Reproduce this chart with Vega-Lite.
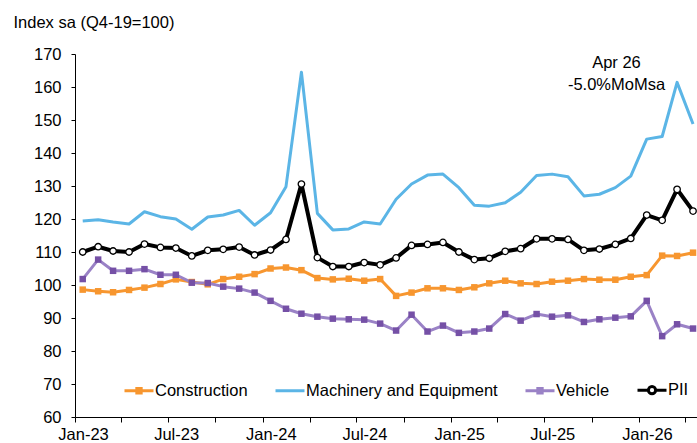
{
  "$schema": "https://vega.github.io/schema/vega-lite/v6.json",
  "width": 622,
  "height": 363,
  "autosize": {"type": "none"},
  "padding": {"left": 75, "top": 54, "right": 0, "bottom": 26},
  "background": "white",
  "config": {
    "font": "Liberation Sans",
    "view": {"stroke": null},
    "axis": {"domainColor": "black", "tickColor": "black", "labelColor": "black", "labelFontSize": 16.5, "labelFont": "Liberation Sans", "grid": false, "domainWidth": 1, "tickWidth": 1},
    "legend": {
      "orient": "none", "legendX": 48, "legendY": 320, "direction": "horizontal",
      "columnPadding": 21, "labelOffset": 0, "symbolSize": 841, "symbolStrokeWidth": 3,
      "labelFontSize": 16.5, "labelFont": "Liberation Sans", "labelColor": "black", "labelLimit": 400,
      "padding": 0, "rowPadding": 0, "symbolFillColor": "transparent", "symbolStrokeColor": "transparent", "symbolOpacity": 1
    }
  },
  "data": {"values": [
    {"date": "2023-01-16", "Construction": 98.6, "Machinery and Equipment": 119.4, "Vehicle": 101.8, "PII": 110.0},
    {"date": "2023-02-15", "Construction": 98.1, "Machinery and Equipment": 119.8, "Vehicle": 107.7, "PII": 111.6},
    {"date": "2023-03-16", "Construction": 97.8, "Machinery and Equipment": 119.1, "Vehicle": 104.3, "PII": 110.3},
    {"date": "2023-04-16", "Construction": 98.5, "Machinery and Equipment": 118.5, "Vehicle": 104.3, "PII": 110.0},
    {"date": "2023-05-16", "Construction": 99.2, "Machinery and Equipment": 122.2, "Vehicle": 104.8, "PII": 112.4},
    {"date": "2023-06-16", "Construction": 100.3, "Machinery and Equipment": 120.7, "Vehicle": 103.1, "PII": 111.4},
    {"date": "2023-07-16", "Construction": 101.7, "Machinery and Equipment": 120.0, "Vehicle": 103.1, "PII": 111.2},
    {"date": "2023-08-16", "Construction": 100.9, "Machinery and Equipment": 116.9, "Vehicle": 100.7, "PII": 108.8},
    {"date": "2023-09-16", "Construction": 100.2, "Machinery and Equipment": 120.6, "Vehicle": 100.6, "PII": 110.5},
    {"date": "2023-10-16", "Construction": 101.8, "Machinery and Equipment": 121.2, "Vehicle": 99.5, "PII": 110.8},
    {"date": "2023-11-16", "Construction": 102.5, "Machinery and Equipment": 122.6, "Vehicle": 98.9, "PII": 111.5},
    {"date": "2023-12-16", "Construction": 103.3, "Machinery and Equipment": 118.1, "Vehicle": 97.7, "PII": 109.1},
    {"date": "2024-01-16", "Construction": 105.0, "Machinery and Equipment": 121.9, "Vehicle": 95.2, "PII": 110.6},
    {"date": "2024-02-15", "Construction": 105.3, "Machinery and Equipment": 129.8, "Vehicle": 92.8, "PII": 113.8},
    {"date": "2024-03-16", "Construction": 104.5, "Machinery and Equipment": 164.5, "Vehicle": 91.3, "PII": 130.6},
    {"date": "2024-04-16", "Construction": 102.1, "Machinery and Equipment": 121.7, "Vehicle": 90.4, "PII": 108.3},
    {"date": "2024-05-16", "Construction": 101.7, "Machinery and Equipment": 116.7, "Vehicle": 89.8, "PII": 105.6},
    {"date": "2024-06-16", "Construction": 101.9, "Machinery and Equipment": 117.0, "Vehicle": 89.6, "PII": 105.6},
    {"date": "2024-07-16", "Construction": 101.3, "Machinery and Equipment": 119.1, "Vehicle": 89.5, "PII": 106.8},
    {"date": "2024-08-16", "Construction": 101.8, "Machinery and Equipment": 118.5, "Vehicle": 88.3, "PII": 106.1},
    {"date": "2024-09-16", "Construction": 96.7, "Machinery and Equipment": 126.0, "Vehicle": 86.2, "PII": 108.2},
    {"date": "2024-10-16", "Construction": 97.7, "Machinery and Equipment": 130.6, "Vehicle": 91.0, "PII": 112.0},
    {"date": "2024-11-16", "Construction": 99.0, "Machinery and Equipment": 133.3, "Vehicle": 85.9, "PII": 112.3},
    {"date": "2024-12-16", "Construction": 99.0, "Machinery and Equipment": 133.6, "Vehicle": 87.7, "PII": 112.9},
    {"date": "2025-01-16", "Construction": 98.5, "Machinery and Equipment": 129.5, "Vehicle": 85.5, "PII": 110.0},
    {"date": "2025-02-15", "Construction": 99.3, "Machinery and Equipment": 124.2, "Vehicle": 85.9, "PII": 107.7},
    {"date": "2025-03-16", "Construction": 100.5, "Machinery and Equipment": 123.9, "Vehicle": 86.8, "PII": 108.1},
    {"date": "2025-04-16", "Construction": 101.3, "Machinery and Equipment": 124.9, "Vehicle": 91.2, "PII": 110.2},
    {"date": "2025-05-16", "Construction": 100.5, "Machinery and Equipment": 128.1, "Vehicle": 89.2, "PII": 111.0},
    {"date": "2025-06-16", "Construction": 100.3, "Machinery and Equipment": 133.2, "Vehicle": 91.2, "PII": 114.0},
    {"date": "2025-07-16", "Construction": 101.0, "Machinery and Equipment": 133.6, "Vehicle": 90.4, "PII": 114.0},
    {"date": "2025-08-16", "Construction": 101.3, "Machinery and Equipment": 132.8, "Vehicle": 90.8, "PII": 113.8},
    {"date": "2025-09-16", "Construction": 101.8, "Machinery and Equipment": 127.0, "Vehicle": 88.8, "PII": 110.5},
    {"date": "2025-10-16", "Construction": 101.6, "Machinery and Equipment": 127.5, "Vehicle": 89.6, "PII": 110.9},
    {"date": "2025-11-16", "Construction": 101.6, "Machinery and Equipment": 129.5, "Vehicle": 90.1, "PII": 112.3},
    {"date": "2025-12-16", "Construction": 102.5, "Machinery and Equipment": 133.0, "Vehicle": 90.5, "PII": 114.1},
    {"date": "2026-01-16", "Construction": 103.0, "Machinery and Equipment": 144.2, "Vehicle": 95.2, "PII": 121.2},
    {"date": "2026-02-15", "Construction": 108.9, "Machinery and Equipment": 145.0, "Vehicle": 84.5, "PII": 119.6},
    {"date": "2026-03-16", "Construction": 108.8, "Machinery and Equipment": 161.4, "Vehicle": 88.1, "PII": 129.0},
    {"date": "2026-04-16", "Construction": 109.8, "Machinery and Equipment": 148.8, "Vehicle": 86.8, "PII": 122.4}
  ]},
  "transform": [{"fold": ["Construction", "Machinery and Equipment", "Vehicle", "PII"], "as": ["series", "value"]}],
  "encoding": {
    "x": {
      "field": "date", "type": "temporal",
      "scale": {"type": "utc", "domain": [{"year": 2023, "month": 1, "date": 1, "utc": true}, {"year": 2026, "month": 4, "date": 23, "hours": 17, "utc": true}]},
      "axis": {
        "title": ["Apr 26", "-5.0%MoMsa"],
        "titleX": 541, "titleY": -350, "titleAlign": "center", "titleBaseline": "alphabetic", "titleAngle": 0,
        "titleLineHeight": 22, "titleFontSize": 16.5, "titleFontWeight": "normal", "titleColor": "black", "titleFont": "Liberation Sans",
        "values": [
          {"year": 2023, "month": 1, "date": 1, "utc": true}, {"year": 2023, "month": 4, "date": 1, "utc": true},
          {"year": 2023, "month": 7, "date": 1, "utc": true}, {"year": 2023, "month": 10, "date": 1, "utc": true},
          {"year": 2024, "month": 1, "date": 1, "utc": true}, {"year": 2024, "month": 4, "date": 1, "utc": true},
          {"year": 2024, "month": 7, "date": 1, "utc": true}, {"year": 2024, "month": 10, "date": 1, "utc": true},
          {"year": 2025, "month": 1, "date": 1, "utc": true}, {"year": 2025, "month": 4, "date": 1, "utc": true},
          {"year": 2025, "month": 7, "date": 1, "utc": true}, {"year": 2025, "month": 10, "date": 1, "utc": true},
          {"year": 2026, "month": 1, "date": 1, "utc": true}, {"year": 2026, "month": 4, "date": 1, "utc": true}
        ],
        "labelExpr": "utcmonth(datum.value) % 6 === 0 ? utcFormat(datum.value, '%b-%y') : ''",
        "labelOffset": 8, "tickSize": 5, "labelPadding": 4, "labelFlush": false, "labelOverlap": false
      }
    },
    "y": {
      "field": "value", "type": "quantitative",
      "scale": {"domain": [60, 170], "nice": false, "zero": false},
      "axis": {
        "values": [60, 70, 80, 90, 100, 110, 120, 130, 140, 150, 160, 170],
        "title": "Index sa (Q4-19=100)", "titleAngle": 0, "titleAlign": "left", "titleBaseline": "alphabetic",
        "titleX": -62, "titleY": -27, "titleFontSize": 16.5, "titleFontWeight": "normal", "titleColor": "black", "titleFont": "Liberation Sans",
        "tickSize": 4, "labelPadding": 10
      }
    }
  },
  "layer": [
    {
      "transform": [{"filter": "datum.series !== 'PII'"}],
      "mark": {"type": "line", "strokeWidth": 3, "strokeJoin": "round"},
      "encoding": {
        "color": {"field": "series", "type": "nominal", "scale": {"domain": ["Construction", "Machinery and Equipment", "Vehicle"], "range": ["#F7962F", "#5BB5E6", "#9A82C6"]}, "legend": null}
      }
    },
    {
      "transform": [{"filter": "datum.series === 'Construction'"}],
      "mark": {"type": "square", "size": 42, "opacity": 1, "strokeWidth": 0, "fill": "#F7962F"}
    },
    {
      "transform": [{"filter": "datum.series === 'Vehicle'"}],
      "mark": {"type": "square", "size": 42, "opacity": 1, "strokeWidth": 0, "fill": "#7550A6"}
    },
    {
      "transform": [{"filter": "datum.series === 'PII'"}],
      "mark": {"type": "line", "strokeWidth": 4, "strokeJoin": "round", "stroke": "#000000"}
    },
    {
      "transform": [{"filter": "datum.series === 'PII'"}],
      "mark": {"type": "circle", "size": 42, "opacity": 1, "fill": "white", "stroke": "black", "strokeWidth": 1.3}
    },
    {
      "mark": {"type": "point", "size": 30, "opacity": 0},
      "encoding": {
        "fill": {"field": "series", "type": "nominal", "scale": {"domain": ["Construction", "Machinery and Equipment", "Vehicle", "PII"], "range": ["#F7962F", "transparent", "#7550A6", "#ffffff"]}, "legend": {"title": null}},
        "stroke": {"field": "series", "type": "nominal", "scale": {"domain": ["Construction", "Machinery and Equipment", "Vehicle", "PII"], "range": ["#F7962F", "#5BB5E6", "#9A82C6", "#000000"]}, "legend": {"title": null}},
        "shape": {"field": "series", "type": "nominal", "scale": {"domain": ["Construction", "Machinery and Equipment", "Vehicle", "PII"], "range": ["M-1,0H1M-0.15,-0.15H0.15V0.15H-0.15Z", "M-1,0H1", "M-1,0H1M-0.15,-0.15H0.15V0.15H-0.15Z", "M-1,0H-0.25M0.25,0H1M0.25,0A0.25,0.25,0,1,1,-0.25,0A0.25,0.25,0,1,1,0.25,0Z"]}, "legend": {"title": null}}
      }
    }
  ]
}
